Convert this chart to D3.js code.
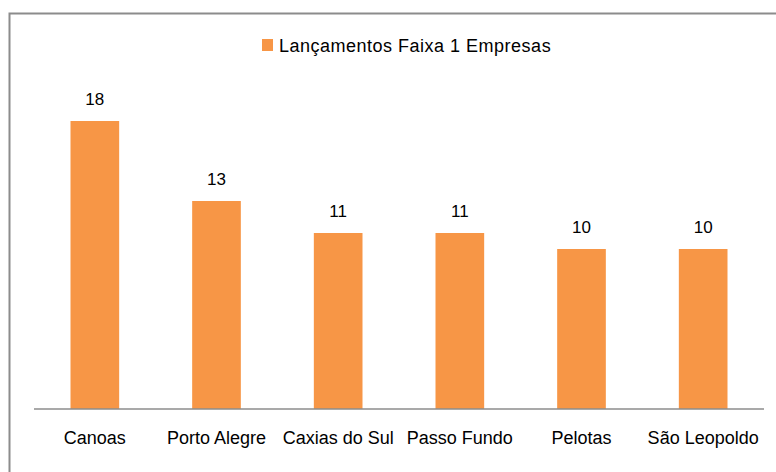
<!DOCTYPE html>
<html>
<head>
<meta charset="utf-8">
<script src="https://cdn.jsdelivr.net/npm/d3@7"></script>
<style>
  body { margin: 0; background: #fff; overflow: hidden; }
  text { font-family: "Liberation Sans", Arial, sans-serif; fill: #000; }
</style>
</head>
<body>
<svg width="776" height="472"></svg>
<script>
// data
var cities = ["Canoas", "Porto Alegre", "Caxias do Sul", "Passo Fundo", "Pelotas", "São Leopoldo"];
var launches = [18, 13, 11, 11, 10, 10];
var seriesName = "Lançamentos Faixa 1 Empresas";

var svg = d3.select("svg");
var barColor = "#F79646";

// chart frame (right and bottom edges fall outside the picture)
svg.append("rect")
  .attr("x", 9.5).attr("y", 13.5)
  .attr("width", 900).attr("height", 600)
  .attr("fill", "none")
  .attr("stroke", "#8c8c8c")
  .attr("stroke-width", 2);

var baseY = 409;

var x = d3.scaleBand()
  .domain(cities)
  .range([34, 764])
  .paddingInner(0.6)
  .paddingOuter(0.3);

var y = d3.scaleLinear()
  .domain([0, 18])
  .range([baseY, 121]);

// bars
svg.selectAll(".bar")
  .data(launches)
  .enter().append("rect")
  .attr("class", "bar")
  .attr("x", function(d, i) { return x(cities[i]); })
  .attr("y", function(d) { return y(d); })
  .attr("width", x.bandwidth())
  .attr("height", function(d) { return baseY - y(d); })
  .attr("fill", barColor);

// value labels
svg.selectAll(".val")
  .data(launches)
  .enter().append("text")
  .attr("class", "val")
  .attr("x", function(d, i) { return x(cities[i]) + x.bandwidth() / 2; })
  .attr("y", function(d) { return y(d) - 16; })
  .attr("text-anchor", "middle")
  .style("font-size", "17px")
  .text(function(d) { return d; });

// category axis
var xAxis = svg.append("g")
  .attr("transform", "translate(0," + baseY + ")")
  .call(d3.axisBottom(x).tickSize(0).tickPadding(22));
xAxis.select(".domain").remove();
xAxis.append("line")
  .attr("x1", 34).attr("x2", 764)
  .attr("stroke", "#8c8c8c")
  .attr("stroke-width", 1.5);
xAxis.selectAll(".tick text")
  .style("font-size", "18px")
  .style("font-family", "Liberation Sans, Arial, sans-serif")
  .attr("fill", "#000");

// legend
var legend = svg.append("g").attr("transform", "translate(262,39)");
legend.append("rect")
  .attr("width", 11).attr("height", 12)
  .attr("fill", barColor);
legend.append("text")
  .attr("x", 17).attr("y", 13)
  .style("font-size", "18px")
  .style("letter-spacing", "0.5px")
  .text(seriesName);
</script>
</body>
</html>
